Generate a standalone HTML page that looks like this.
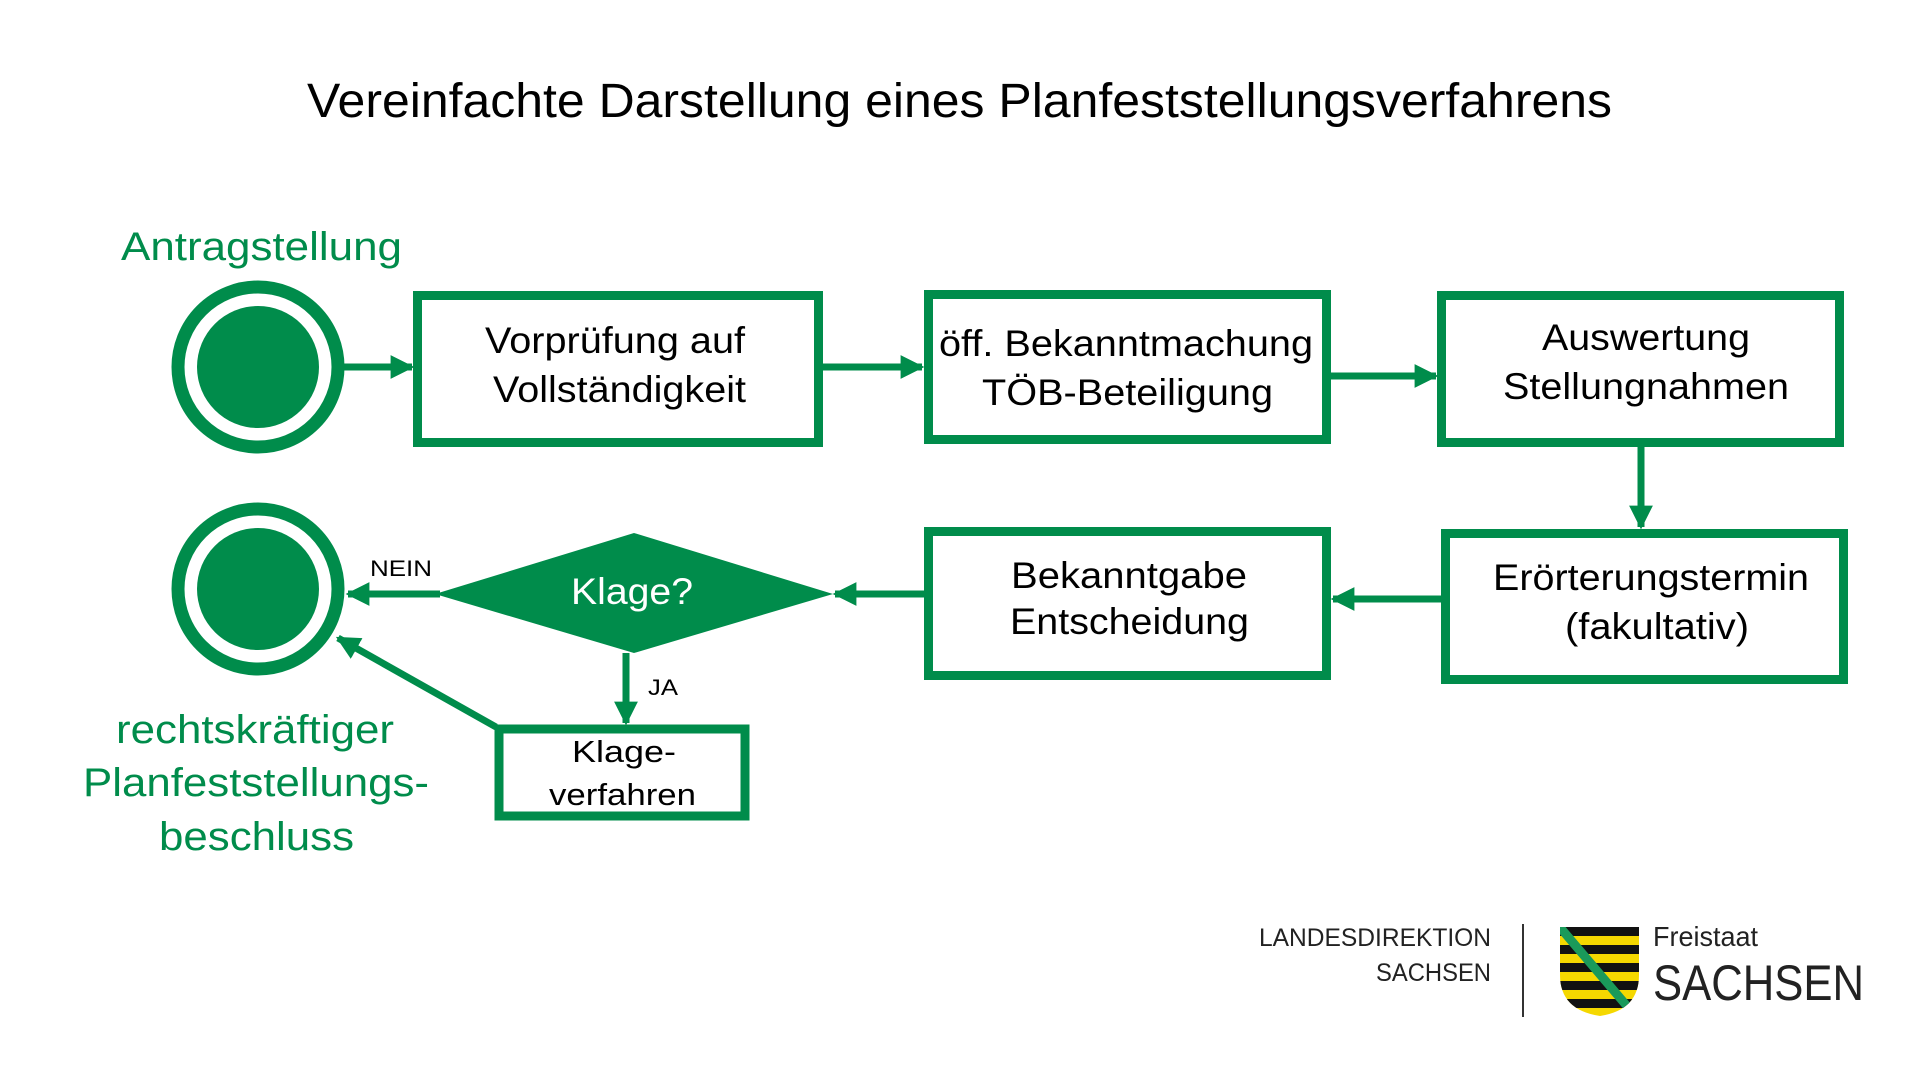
<!DOCTYPE html>
<html><head><meta charset="utf-8"><style>
html,body{margin:0;padding:0;background:#fff;width:1920px;height:1080px;overflow:hidden}
svg{display:block}
text{font-family:"Liberation Sans",sans-serif}
</style></head><body>
<svg width="1920" height="1080" viewBox="0 0 1920 1080" xmlns="http://www.w3.org/2000/svg">
<defs>
<marker id="a" viewBox="0 0 10 10" refX="9" refY="5" markerWidth="3.4" markerHeight="3.4" orient="auto" markerUnits="strokeWidth">
<path d="M0,0 L10,5 L0,10 z" fill="#008c4b"/></marker>
</defs>
<g fill="#000">
<text x="307" y="117" font-size="48" textLength="1305" lengthAdjust="spacingAndGlyphs">Vereinfachte Darstellung eines Planfeststellungsverfahrens</text>
</g>
<g fill="#008c4b" font-size="40">
<text x="121" y="260" textLength="281" lengthAdjust="spacingAndGlyphs">Antragstellung</text>
<text x="116" y="743" textLength="278" lengthAdjust="spacingAndGlyphs">rechtskräftiger</text>
<text x="83" y="796" textLength="346" lengthAdjust="spacingAndGlyphs">Planfeststellungs-</text>
<text x="159" y="850" textLength="195" lengthAdjust="spacingAndGlyphs">beschluss</text>
</g>
<circle cx="258" cy="367" r="80" fill="none" stroke="#008c4b" stroke-width="13"/>
<circle cx="258" cy="367" r="61" fill="#008c4b"/>
<circle cx="258" cy="589" r="80" fill="none" stroke="#008c4b" stroke-width="13"/>
<circle cx="258" cy="589" r="61" fill="#008c4b"/>
<g fill="#fff" stroke="#008c4b" stroke-width="9">
<rect x="417.5" y="295.5" width="401" height="147"/>
<rect x="928.5" y="294.5" width="398" height="145"/>
<rect x="1441.5" y="295.5" width="398" height="147"/>
<rect x="1445.5" y="533.5" width="398" height="146"/>
<rect x="928.5" y="531.5" width="398" height="144"/>
<rect x="499" y="729" width="246" height="87"/>
</g>
<polygon points="435,594 634,533 833,594 634,653" fill="#008c4b"/>
<g stroke="#008c4b" stroke-width="7" fill="none" marker-end="url(#a)">
<line x1="344" y1="367" x2="412" y2="367"/>
<line x1="820" y1="367" x2="922" y2="367"/>
<line x1="1331" y1="376" x2="1436" y2="376"/>
<line x1="1641" y1="447" x2="1641" y2="527"/>
<line x1="1441" y1="599" x2="1333" y2="599"/>
<line x1="924" y1="594" x2="835" y2="594"/>
<line x1="440" y1="594" x2="348" y2="594"/>
<line x1="626" y1="653" x2="626" y2="723"/>
<line x1="496" y1="727" x2="338" y2="638"/>
</g>
<g fill="#000" font-size="37">
<text x="485" y="353" textLength="260" lengthAdjust="spacingAndGlyphs">Vorprüfung auf</text>
<text x="493" y="402" textLength="253" lengthAdjust="spacingAndGlyphs">Vollständigkeit</text>
<text x="939" y="356" textLength="374" lengthAdjust="spacingAndGlyphs">öff. Bekanntmachung</text>
<text x="982" y="405" textLength="291" lengthAdjust="spacingAndGlyphs">TÖB-Beteiligung</text>
<text x="1542" y="350" textLength="208" lengthAdjust="spacingAndGlyphs">Auswertung</text>
<text x="1503" y="399" textLength="286" lengthAdjust="spacingAndGlyphs">Stellungnahmen</text>
<text x="1493" y="590" textLength="316" lengthAdjust="spacingAndGlyphs">Erörterungstermin</text>
<text x="1565" y="639" textLength="184" lengthAdjust="spacingAndGlyphs">(fakultativ)</text>
<text x="1011" y="588" textLength="236" lengthAdjust="spacingAndGlyphs">Bekanntgabe</text>
<text x="1010" y="634" textLength="239" lengthAdjust="spacingAndGlyphs">Entscheidung</text>
<text x="572" y="762" font-size="31" textLength="104" lengthAdjust="spacingAndGlyphs">Klage-</text>
<text x="549" y="805" font-size="31" textLength="147" lengthAdjust="spacingAndGlyphs">verfahren</text>
<text x="370" y="576" font-size="22" textLength="62" lengthAdjust="spacingAndGlyphs">NEIN</text>
<text x="648" y="695" font-size="22" textLength="30" lengthAdjust="spacingAndGlyphs">JA</text>
</g>
<text x="571" y="604" font-size="37" fill="#fff" textLength="122" lengthAdjust="spacingAndGlyphs">Klage?</text>
<g fill="#222">
<text x="1491" y="946" font-size="25" text-anchor="end" textLength="232" lengthAdjust="spacingAndGlyphs">LANDESDIREKTION</text>
<text x="1491" y="981" font-size="25" text-anchor="end" textLength="115" lengthAdjust="spacingAndGlyphs">SACHSEN</text>
<text x="1653" y="946" font-size="28" textLength="105" lengthAdjust="spacingAndGlyphs">Freistaat</text>
<text x="1653" y="1000" font-size="50" textLength="211" lengthAdjust="spacingAndGlyphs">SACHSEN</text>
</g>
<rect x="1522" y="924" width="2" height="93" fill="#333"/>
<clipPath id="sh"><path d="M1560,927 H1639 V975 Q1639,1010 1600,1016 Q1560,1010 1560,975 Z"/></clipPath>
<g clip-path="url(#sh)">
<rect x="1560" y="927" width="80" height="90" fill="#f5d800"/>
<rect x="1560" y="927" width="80" height="9" fill="#111"/>
<rect x="1560" y="945" width="80" height="9" fill="#111"/>
<rect x="1560" y="963" width="80" height="9" fill="#111"/>
<rect x="1560" y="981" width="80" height="9" fill="#111"/>
<rect x="1560" y="999" width="80" height="9" fill="#111"/>
<line x1="1558" y1="925" x2="1632" y2="1012" stroke="#1a9a5a" stroke-width="9"/>
</g>
</svg>
</body></html>
